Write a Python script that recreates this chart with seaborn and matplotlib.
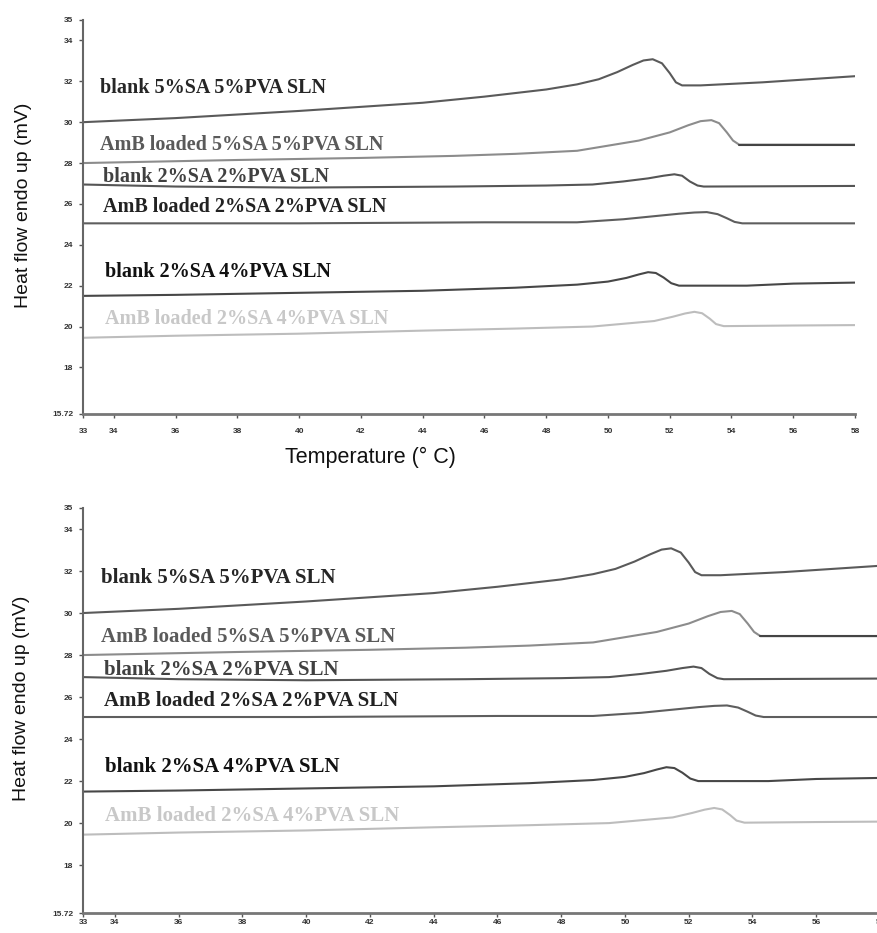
import numpy as np
import pandas as pd
import seaborn as sns
import matplotlib
matplotlib.use("Agg")
import matplotlib.pyplot as plt

# 数据：DSC 曲线 (温度 °C, 热流 mV)
t_b55 = [33, 36, 40, 44, 46, 48, 49, 49.7, 50.3, 50.8, 51.15, 51.45, 51.75, 52.0, 52.2, 52.4, 53, 55, 58]
v_b55 = [30.0, 30.2, 30.55, 30.95, 31.25, 31.6, 31.85, 32.1, 32.45, 32.8, 33.02, 33.08, 32.88, 32.4, 31.95, 31.8, 31.8, 31.95, 32.25]

t_a55 = [33, 38, 42, 45, 47, 49, 50, 51, 52, 52.6, 53.0, 53.35, 53.6, 53.85, 54.05, 54.25, 58]
v_a55 = [28.0, 28.15, 28.25, 28.35, 28.45, 28.6, 28.85, 29.1, 29.5, 29.85, 30.05, 30.1, 29.95, 29.5, 29.1, 28.9, 28.9]

t_b22 = [33, 36, 40, 45, 48, 49.5, 50.5, 51.3, 51.8, 52.15, 52.4, 52.65, 52.9, 53.1, 58]
v_b22 = [26.95, 26.85, 26.8, 26.85, 26.9, 26.95, 27.1, 27.25, 27.38, 27.45, 27.38, 27.1, 26.9, 26.85, 26.88]

t_a22 = [33, 40, 46, 49, 50.5, 51.5, 52.3, 52.8, 53.2, 53.55, 53.85, 54.1, 54.35, 58]
v_a22 = [25.05, 25.05, 25.1, 25.1, 25.25, 25.4, 25.52, 25.58, 25.6, 25.5, 25.3, 25.12, 25.05, 25.05]

t_b24 = [33, 36, 40, 44, 47, 49, 50, 50.6, 51.0, 51.3, 51.55, 51.8, 52.05, 52.3, 54.5, 56, 58]
v_b24 = [21.5, 21.55, 21.65, 21.75, 21.9, 22.05, 22.2, 22.38, 22.55, 22.66, 22.62, 22.4, 22.12, 22.0, 22.0, 22.1, 22.15]

t_a24 = [33, 36, 40, 44, 47, 49.5, 51.5, 52.1, 52.5, 52.8, 53.05, 53.3, 53.5, 53.75, 56, 58]
v_a24 = [19.45, 19.55, 19.65, 19.8, 19.9, 20.0, 20.27, 20.48, 20.64, 20.72, 20.65, 20.38, 20.12, 20.02, 20.05, 20.07]

names = ["blank 5%SA 5%PVA SLN", "AmB loaded 5%SA 5%PVA SLN",
         "blank 2%SA 2%PVA SLN", "AmB loaded 2%SA 2%PVA SLN",
         "blank 2%SA 4%PVA SLN", "AmB loaded 2%SA 4%PVA SLN"]
label_x = [33.55, 33.55, 33.65, 33.65, 33.7, 33.7]
label_y = [31.67, 28.87, 27.3, 25.83, 22.68, 20.36]

x_ticks = [33, 34, 36, 38, 40, 42, 44, 46, 48, 50, 52, 54, 56, 58]
y_ticks = [15.72, 18, 20, 22, 24, 26, 28, 30, 32, 34, 35]
y_ticklabels = ["15.72", "18", "20", "22", "24", "26", "28", "30", "32", "34", "35"]

line_colors = ["#5a5a5a", "#8c8c8c", "#555555", "#5e5e5e", "#474747", "#bdbdbd"]
text_colors = ["#262626", "#5a5a5a", "#404040", "#222222", "#111111", "#c8c8c8"]

curves = [(t_b55, v_b55), (t_a55, v_a55), (t_b22, v_b22),
          (t_a22, v_a22), (t_b24, v_b24), (t_a24, v_a24)]
df = pd.concat([pd.DataFrame({"T": t, "v": v, "s": n}) for (t, v), n in zip(curves, names)],
               ignore_index=True)

sns.set_style("white")
plt.rcParams["font.family"] = ["Liberation Sans", "DejaVu Sans"]

fig = plt.figure(figsize=(8.78, 9.33), dpi=100)
ax_top = fig.add_axes([83 / 878, 1 - 414 / 933, 772 / 878, 394 / 933])
ax_bot = fig.add_axes([83 / 878, 1 - 913 / 933, 797 / 878, 405 / 933])


def draw(ax, fs, xpad):
    sns.lineplot(data=df, x="T", y="v", hue="s", palette=dict(zip(names, line_colors)),
                 estimator=None, sort=False, legend=False, linewidth=1.5, ax=ax)
    # AmB loaded 5%/5% 的平台段颜色更深
    ax.plot(t_a55[-2:], v_a55[-2:], color="#444444", linewidth=1.5)
    for i, n in enumerate(names):
        ax.text(label_x[i], label_y[i], n, family="Liberation Serif", weight="bold",
                fontsize=fs, color=text_colors[i], va="center", ha="left")
    ax.set_xlim(33, 58)
    ax.set_ylim(15.72, 35)
    ax.set_xticks(x_ticks)
    ax.set_xticklabels([str(x) for x in x_ticks])
    ax.set_yticks(y_ticks)
    ax.set_yticklabels(y_ticklabels)
    ax.tick_params(axis="both", direction="out", length=3, width=1, color="#555555",
                   labelsize=6, labelcolor="#333333", left=True, bottom=True)
    ax.tick_params(axis="x", pad=xpad)
    ax.tick_params(axis="y", pad=4)
    for lab in ax.get_xticklabels() + ax.get_yticklabels():
        lab.set_fontweight("bold")
    for side in ["top", "right"]:
        ax.spines[side].set_visible(False)
    ax.spines["left"].set_color("#666666")
    ax.spines["left"].set_linewidth(1.5)
    ax.spines["bottom"].set_color("#777777")
    ax.spines["bottom"].set_linewidth(2)
    ax.set_ylabel("Heat flow endo up (mV)", fontsize=14, color="#111111")
    ax.yaxis.set_label_coords(-0.066, 0.53)


draw(ax_top, 14.5, 7)
draw(ax_bot, 15, 1.5)
ax_top.set_xlabel("Temperature (° C)", fontsize=15.5, color="#111111")
ax_top.xaxis.set_label_coords(0.372, -0.083)
ax_bot.set_xlabel("")

fig.savefig("out.png", dpi=100)
